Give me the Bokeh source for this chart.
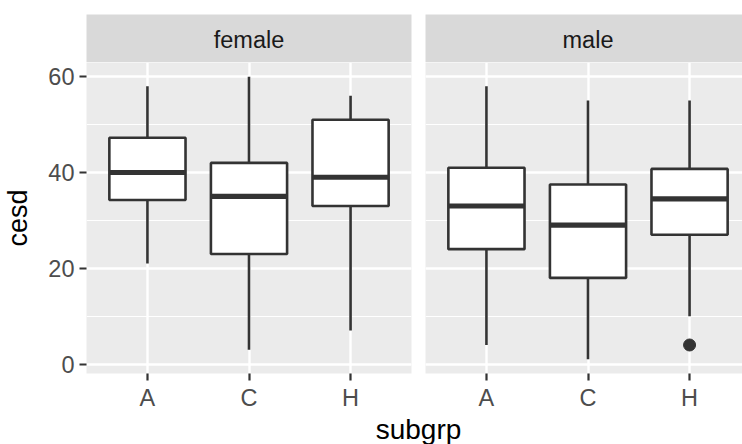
from bokeh.plotting import figure
from bokeh.models import Range1d, FixedTicker, SingleIntervalTicker, Grid, Label, ColumnDataSource
from bokeh.layouts import row, column
from bokeh.embed import file_html
from bokeh.resources import INLINE
from bokeh.core.validation import silence
from bokeh.core.validation.warnings import MISSING_RENDERERS

silence(MISSING_RENDERERS, True)

# ---------------- data ----------------
categories = ["A", "C", "H"]
facets = ["female", "male"]

female_lower = [21, 3, 7]
female_q1 = [34.25, 23, 33]
female_median = [40, 35, 39]
female_q3 = [47.25, 42, 51]
female_upper = [58, 60, 56]
female_outlier_cat = []
female_outlier_val = []

male_lower = [4, 1, 10]
male_q1 = [24, 18, 27]
male_median = [33, 29, 34.5]
male_q3 = [41, 37.5, 40.75]
male_upper = [58, 55, 55]
male_outlier_cat = ["H"]
male_outlier_val = [4]

y_ticks = [0, 20, 40, 60]
x_label = "subgrp"
y_label = "cesd"

# ---------------- style ----------------
FONT = "Liberation Sans"
PANEL_BG = "#EBEBEB"
STRIP_BG = "#D9D9D9"
INK = "#333333"
TICK_COLOR = "#4D4D4D"
TICK_SIZE = "23.5px"
TITLE_SIZE = "27px"
XTITLE_SIZE = "28px"

LEFT_BORDER = 86
TOP_BORDER = 14
GAP = 14
FRAME_H = 311
STRIP_H = 48
LEFT_W = 325
RIGHT_W = 742 - LEFT_BORDER - LEFT_W - GAP
PX_PER_UNIT = LEFT_W / 3.2
BOTTOM_BORDER = 40
BOTTOM_H = 444 - TOP_BORDER - STRIP_H - FRAME_H - BOTTOM_BORDER

data_min = min(female_lower + male_lower + male_outlier_val)
data_max = max(female_upper + male_upper)
pad = 0.05 * (data_max - data_min)
Y_START, Y_END = data_min - pad, data_max + pad

pos = {c: i + 1 for i, c in enumerate(categories)}
BOX_W = 0.75


def make_panel(lower, q1, med, q3, upper, out_c, out_v, frame_w, first):
    x_end = 0.4 + frame_w / PX_PER_UNIT
    p = figure(title=None, frame_width=frame_w, frame_height=FRAME_H,
               x_range=Range1d(0.4, x_end), y_range=Range1d(Y_START, Y_END),
               output_backend="svg", toolbar_location=None,
               x_axis_location="below",
               y_axis_location="left" if first else None,
               min_border_left=LEFT_BORDER if first else GAP // 2,
               min_border_right=GAP // 2 if first else 0,
               min_border_top=0, min_border_bottom=BOTTOM_BORDER,
               background_fill_color=PANEL_BG, border_fill_color="white",
               outline_line_color=None)
    p.grid.visible = False
    yt = SingleIntervalTicker(interval=20, num_minor_ticks=2)
    xt = FixedTicker(ticks=[pos[c] for c in categories])
    p.add_layout(Grid(dimension=1, ticker=yt, grid_line_color="white",
                      grid_line_width=2.4, minor_grid_line_color="white",
                      minor_grid_line_width=1.2))
    p.add_layout(Grid(dimension=0, ticker=xt, grid_line_color="white",
                      grid_line_width=2.4))

    xs = [pos[c] for c in categories]
    src = ColumnDataSource(dict(x=xs, lower=lower, q1=q1, med=med, q3=q3, upper=upper,
                                x0=[x - BOX_W / 2 for x in xs],
                                x1=[x + BOX_W / 2 for x in xs]))
    p.segment(x0="x", y0="q3", x1="x", y1="upper", source=src,
              line_color=INK, line_width=2.6)
    p.segment(x0="x", y0="q1", x1="x", y1="lower", source=src,
              line_color=INK, line_width=2.6)
    p.vbar(x="x", width=BOX_W, top="q3", bottom="q1", source=src,
           fill_color="white", line_color=INK, line_width=2.6)
    p.segment(x0="x0", y0="med", x1="x1", y1="med", source=src,
              line_color=INK, line_width=5.2)
    if out_c:
        p.scatter(x=[pos[c] for c in out_c], y=out_v, size=12,
                  fill_color=INK, line_color=INK)

    for ax in p.xaxis:
        ax.ticker = xt
        ax.major_label_overrides = {pos[c]: c for c in categories}
        ax.axis_line_color = None
        ax.major_tick_line_color = INK
        ax.major_tick_line_width = 2.2
        ax.major_tick_in = 0
        ax.major_tick_out = 7
        ax.minor_tick_line_color = None
        ax.major_label_standoff = 4
        ax.major_label_text_font = FONT
        ax.major_label_text_font_size = TICK_SIZE
        ax.major_label_text_color = TICK_COLOR
    for ax in p.yaxis:
        ax.ticker = FixedTicker(ticks=y_ticks)
        ax.axis_line_color = None
        ax.major_tick_line_color = INK
        ax.major_tick_line_width = 2.2
        ax.major_tick_in = 0
        ax.major_tick_out = 7
        ax.minor_tick_line_color = None
        ax.major_label_standoff = 5
        ax.major_label_text_font = FONT
        ax.major_label_text_font_size = TICK_SIZE
        ax.major_label_text_color = TICK_COLOR
        ax.axis_label = y_label
        ax.axis_label_standoff = 12
        ax.axis_label_text_font = FONT
        ax.axis_label_text_font_size = TITLE_SIZE
        ax.axis_label_text_font_style = "normal"
        ax.axis_label_text_color = "black"
    return p


def make_strip(text, frame_w, first):
    s = figure(title=None, frame_width=frame_w, frame_height=STRIP_H,
               x_range=Range1d(0, 1), y_range=Range1d(0, 1),
               output_backend="svg", toolbar_location=None,
               x_axis_location=None, y_axis_location=None,
               min_border_left=LEFT_BORDER if first else GAP // 2,
               min_border_right=GAP // 2 if first else 0,
               min_border_top=TOP_BORDER, min_border_bottom=0,
               background_fill_color=STRIP_BG, border_fill_color="white",
               outline_line_color=None)
    s.grid.visible = False
    # label centred on the full (uncropped) facet width
    full_w = 3.2 * PX_PER_UNIT
    s.add_layout(Label(x=full_w / 2, y=STRIP_H / 2 - 1, x_units="screen", y_units="screen",
                       text=text, text_align="center",
                       text_baseline="middle", text_font=FONT,
                       text_font_size=TICK_SIZE, text_color="#1A1A1A"))
    return s


left_panel = make_panel(female_lower, female_q1, female_median, female_q3, female_upper,
                        female_outlier_cat, female_outlier_val, LEFT_W, True)
right_panel = make_panel(male_lower, male_q1, male_median, male_q3, male_upper,
                         male_outlier_cat, male_outlier_val, RIGHT_W, False)
left_strip = make_strip(facets[0], LEFT_W, True)
right_strip = make_strip(facets[1], RIGHT_W, False)

total_w = LEFT_BORDER + LEFT_W + GAP + RIGHT_W
bottom = figure(title=None, frame_width=total_w, frame_height=BOTTOM_H,
                x_range=Range1d(0, total_w), y_range=Range1d(0, 1),
                output_backend="svg", toolbar_location=None,
                x_axis_location=None, y_axis_location=None,
                min_border=0, outline_line_color=None,
                background_fill_color="white", border_fill_color="white")
bottom.grid.visible = False
# centred on the full width of both (uncropped) panels, anchored at the top of the strip
centre_x = LEFT_BORDER + (2 * 3.2 * PX_PER_UNIT + GAP) / 2
bottom.add_layout(Label(x=centre_x, y=1,
                        text=x_label, text_align="center", text_baseline="top",
                        text_font=FONT, text_font_size=XTITLE_SIZE, text_color="black"))

layout = column(row(column(left_strip, left_panel), column(right_strip, right_panel)), bottom)

open("out.html", "w").write(file_html(layout, INLINE))
